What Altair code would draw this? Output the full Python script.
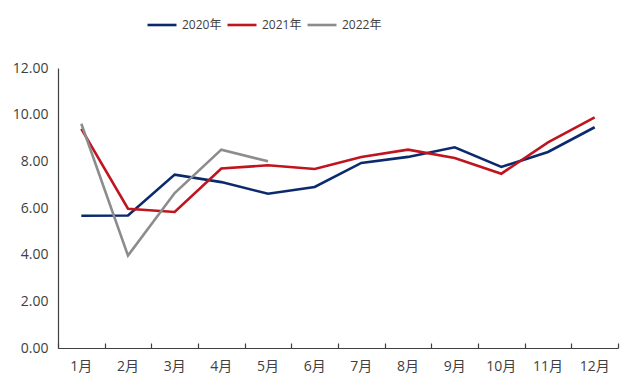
import altair as alt
import pandas as pd

months = ["1月", "2月", "3月", "4月", "5月", "6月", "7月", "8月", "9月", "10月", "11月", "12月"]
years = ["2020年", "2021年", "2022年"]
v2020 = [5.67, 5.68, 7.43, 7.11, 6.61, 6.90, 7.93, 8.19, 8.60, 7.76, 8.40, 9.46]
v2021 = [9.39, 5.97, 5.83, 7.69, 7.83, 7.67, 8.19, 8.50, 8.14, 7.47, 8.81, 9.88]
v2022 = [9.61, 3.96, 6.64, 8.50, 8.00]
y_ticks = [0, 2, 4, 6, 8, 10, 12]

rows = []
for yr, vals in zip(years, [v2020, v2021, v2022]):
    for m, v in zip(months, vals):
        rows.append({"month": m, "year": yr, "value": v})
df = pd.DataFrame(rows)

FONT = "Open Sans, Noto Sans CJK SC, sans-serif"
W, H = 560, 280

xscale = alt.Scale(type="band", domain=months, paddingInner=0, paddingOuter=0)
yscale = alt.Scale(domain=[0, 12])

legend = alt.Legend(title=None, orient="none", direction="horizontal",
                    legendX=88, legendY=-59, padding=0,
                    symbolType="stroke", symbolSize=841,
                    labelFontSize=12, labelColor="#404040", labelFont=FONT,
                    columnPadding=0, labelOffset=4)

lines = alt.Chart(df).mark_line().encode(
    x=alt.X("month:O", scale=xscale, sort=months, bandPosition=0.5,
            axis=alt.Axis(orient="bottom", title=None, labelAngle=0, ticks=False,
                          labelPadding=11, labelFontSize=14, labelColor="#404040",
                          labelFont=FONT, domainColor="#404040", domainWidth=1.2)),
    y=alt.Y("value:Q", scale=yscale,
            axis=alt.Axis(title=None, values=y_ticks, format=".2f", grid=False, ticks=False,
                          labelPadding=10, labelFontSize=14, labelColor="#404040",
                          labelFont=FONT, domainColor="#404040", domainWidth=1.2)),
    color=alt.Color("year:N", scale=alt.Scale(domain=years, range=["#0B2A6E", "#C0141E", "#8C8C8C"]),
                    legend=legend),
    strokeWidth=alt.StrokeWidth("year:N", scale=alt.Scale(domain=years, range=[2.6, 2.6, 1.5]),
                                legend=legend),
)

ticks = alt.Chart(df).mark_point(opacity=0).encode(
    x=alt.X("month:O", scale=xscale, sort=months,
            axis=alt.Axis(orient="top", offset=-H, title=None, labels=False, domain=False,
                          ticks=True, tickSize=5, tickColor="#404040", tickWidth=1.2,
                          tickBand="extent")),
    y=alt.Y("value:Q", scale=yscale),
)

chart = alt.layer(lines, ticks).resolve_axis(x="independent").properties(
    width=W, height=H,
    autosize=alt.AutoSizeParams(type="none"),
    padding={"left": 50, "top": 60, "right": 14, "bottom": 29},
    background="white",
).configure_view(stroke=None)

chart.save("out.html", embed_options={"renderer": "svg", "actions": False})
